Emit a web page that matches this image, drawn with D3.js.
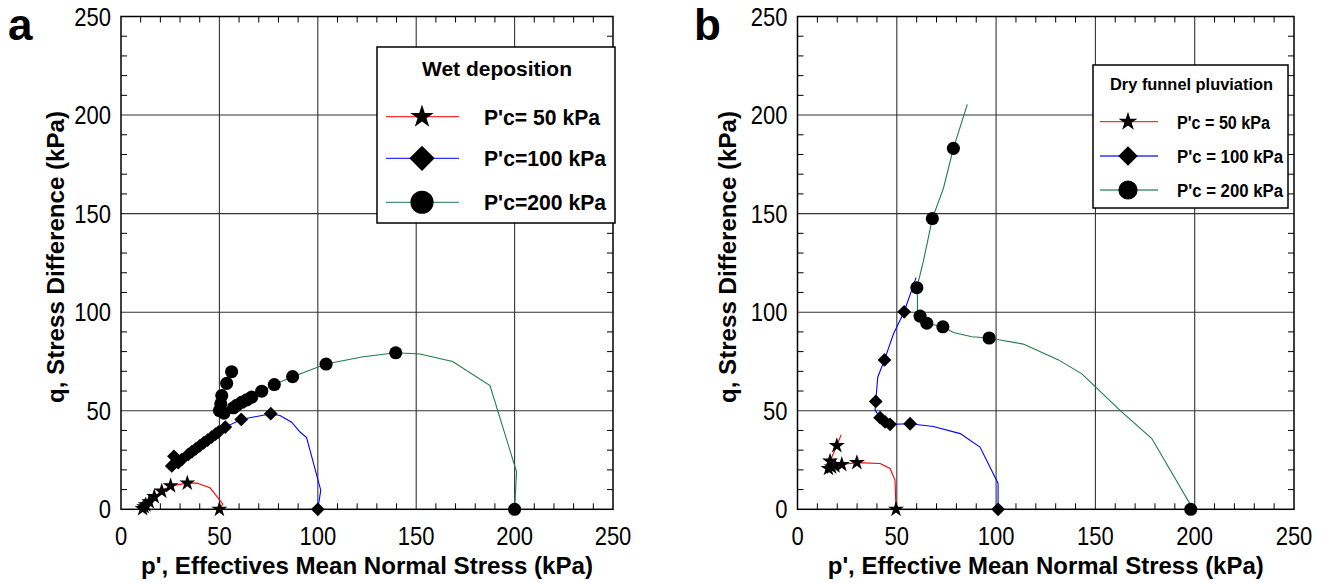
<!DOCTYPE html>
<html><head><meta charset="utf-8">
<script src="https://cdn.jsdelivr.net/npm/d3@7"></script>
<style>
html,body{margin:0;padding:0;background:#fff;}
svg{display:block;font-family:"Liberation Sans",Arial,sans-serif;}
</style></head>
<body>
<svg id="chart" width="1326" height="583"></svg>
<script>
// ---------- data ----------
const axisTicks = [0, 50, 100, 150, 200, 250];
const minorTicks = d3.range(10, 250, 10).filter(v => v % 50 !== 0);

const seriesNames = ["50 kPa", "100 kPa", "200 kPa"];
const seriesColors = ["#ff0000", "#0000ff", "#1e7b4b"];

// Panel a — Wet deposition
const aRedLine = [[50,0],[51.7,2.7],[48.2,7.2],[45.2,10.9],[38.4,13.3],[33.7,13.3],[25.2,11.9],[20.7,9.2],[16.9,6.4],[14.4,3.8],[11.8,1.3],[11,0.3]];
const aRedPts  = [[50,0],[33.7,13.3],[25.2,11.9],[20.7,9.2],[16.9,6.4],[14.4,3.8],[12.6,2.2],[11.8,1.3],[11,0.3]];
const aBlueLine = [[100,0],[101.5,9.7],[94.3,36.4],[91,39.2],[86.7,44.2],[80.8,47.6],[76.1,48.5],[61.1,45.6],[53,41.7],[49.5,39.2],[48,38.1],[46,36.6],[44,35.1],[42,33.7],[40,32.2],[38,30.7],[36,29.2],[34.2,27.9],[30.8,25.2],[29.1,23.7],[25.8,22],[26.9,26.9]];
const aBluePts  = [[100,0],[76.1,48.5],[61.1,45.6],[53,41.7],[49.5,39.2],[48,38.1],[46,36.6],[44,35.1],[42,33.7],[40,32.2],[38,30.7],[36,29.2],[34.2,27.9],[30.8,25.2],[29.1,23.7],[25.8,22],[26.9,26.9]];
const aGreenLine = [[200,0],[201,19],[187.5,62.8],[168.5,75],[151.9,78.8],[139.6,79.4],[123,77.4],[104.2,73.7],[87.2,67.3],[77.9,63.3],[71.5,59.9],[66.4,56.9],[63.9,55.5],[61.3,54.3],[58.8,52.7],[57.1,51.5],[52.3,48.8],[50,50.1],[50.7,53.5],[51.2,57.7],[53.7,63.9],[56.2,69.8]];
const aGreenPts  = [[200,0],[139.6,79.4],[104.2,73.7],[87.2,67.3],[77.9,63.3],[71.5,59.9],[66.4,56.9],[63.9,55.5],[61.3,54.3],[58.8,52.7],[57.1,51.5],[52.3,48.8],[50,50.1],[50.7,53.5],[51.2,57.7],[53.7,63.9],[56.2,69.8]];

// Panel b — Dry funnel pluviation
const bRedLine = [[49.6,0],[49.1,14.8],[46.6,20.7],[41.6,23.2],[29.9,23.7],[22.3,22.7],[18.9,22],[15.6,20.7],[16.4,24.4],[19.8,32.3],[22,37.9]];
const bRedPts  = [[49.6,0],[29.9,23.7],[22.3,22.7],[18.9,22],[17.2,21.4],[15.6,20.7],[16.4,24.4],[19.8,32.3]];
const bBlueLine = [[101,0],[101,13.1],[91.9,31.6],[81.9,38.4],[68.4,42],[56.7,43.4],[46.6,43.1],[44.1,44.3],[41.6,46.5],[39.1,50.2],[39.4,54.7],[40.4,67],[43.8,75.8],[48.3,88.9],[53.7,100.2],[59.7,117.5]];
const bBluePts  = [[101,0],[56.7,43.4],[46.6,43.1],[44.1,44.3],[41.6,46.5],[39.4,54.7],[43.8,75.8],[53.7,100.2]];
const bGreenLine = [[198,0],[197.5,3],[178.4,35.9],[162.4,50.2],[143.2,68.7],[131.4,75.8],[113.7,83.8],[102,85.9],[96.5,86.9],[87.8,87.5],[78.5,89.7],[73.2,92.6],[65.1,94.4],[61.7,98],[60.4,100.7],[60.4,107.4],[60.1,112.4],[63.4,125.9],[67.9,147.5],[73.5,162.9],[78.5,183.1],[85.5,205.4]];
const bGreenPts  = [[198,0],[96.5,86.9],[73.2,92.6],[65.1,94.4],[61.7,98],[60.1,112.4],[67.9,147.5],[78.5,183.1]];

const aLabels = ["P'c= 50 kPa", "P'c=100 kPa", "P'c=200 kPa"];
const bLabels = ["P'c = 50 kPa", "P'c = 100 kPa", "P'c = 200 kPa"];

// ---------- drawing ----------
const svg = d3.select("#chart");
const symbols = [d3.symbolStar, d3.symbolSquare, d3.symbolCircle];
const rot = [0, 45, 0];

function condense(sel, f) {
  sel.each(function () {
    const w = this.getComputedTextLength();
    d3.select(this).attr("textLength", w * f).attr("lengthAdjust", "spacingAndGlyphs");
  });
}

function drawPanel(cfg) {
  const x = d3.scaleLinear().domain([0, 250]).range(cfg.xr);
  const y = d3.scaleLinear().domain([0, 250]).range([509.3, 16.5]);
  const g = svg.append("g");
  const [x0, x1] = cfg.xr, y0 = y(0), y1 = y(250);

  // grid
  g.selectAll(".gx").data(axisTicks.slice(1, -1)).join("line")
    .attr("x1", d => x(d)).attr("x2", d => x(d)).attr("y1", y0).attr("y2", y1)
    .attr("stroke", "#333").attr("stroke-width", 1.1);
  g.selectAll(".gy").data(axisTicks.slice(1, -1)).join("line")
    .attr("y1", d => y(d)).attr("y2", d => y(d)).attr("x1", x0).attr("x2", x1)
    .attr("stroke", "#333").attr("stroke-width", 1.1);

  // minor ticks on all sides
  const tl = 6;
  minorTicks.forEach(v => {
    g.append("line").attr("x1", x(v)).attr("x2", x(v)).attr("y1", y0).attr("y2", y0 - tl).attr("stroke", "#000");
    g.append("line").attr("x1", x(v)).attr("x2", x(v)).attr("y1", y1).attr("y2", y1 + tl).attr("stroke", "#000");
    g.append("line").attr("y1", y(v)).attr("y2", y(v)).attr("x1", x0).attr("x2", x0 + tl).attr("stroke", "#000");
    g.append("line").attr("y1", y(v)).attr("y2", y(v)).attr("x1", x1).attr("x2", x1 - tl).attr("stroke", "#000");
  });

  // frame
  g.append("rect").attr("x", x0).attr("y", y1).attr("width", x1 - x0).attr("height", y0 - y1)
    .attr("fill", "none").attr("stroke", "#000").attr("stroke-width", 1.5);

  // tick labels
  const xl = g.selectAll(".xl").data(axisTicks).join("text")
    .attr("x", d => x(d)).attr("y", 545).attr("text-anchor", "middle")
    .attr("font-size", 25).text(d => d);
  condense(xl, 0.88);
  const yl = g.selectAll(".yl").data(axisTicks).join("text")
    .attr("x", x0 - 10).attr("y", d => y(d) + 9).attr("text-anchor", "end")
    .attr("font-size", 25).text(d => d);
  condense(yl, 0.88);

  // axis titles
  g.append("text").attr("x", (x0 + x1) / 2).attr("y", 574).attr("text-anchor", "middle")
    .attr("font-size", 24).attr("font-weight", "bold")
    .attr("textLength", cfg.xTitleLen).attr("lengthAdjust", "spacingAndGlyphs").text(cfg.xTitle);
  g.append("text").attr("transform", `translate(${cfg.yTitleX},257) rotate(-90)`)
    .attr("text-anchor", "middle").attr("font-size", 24).attr("font-weight", "bold")
    .attr("textLength", 292).attr("lengthAdjust", "spacingAndGlyphs").text("q, Stress Difference (kPa)");

  // panel letter
  g.append("text").attr("x", cfg.letterX).attr("y", 40).attr("font-size", 44)
    .attr("font-weight", "bold").text(cfg.letter);

  // series
  const line = d3.line().x(d => x(d[0])).y(d => y(d[1]));
  cfg.lines.forEach((ln, i) => {
    g.append("path").attr("d", line(ln)).attr("fill", "none")
      .attr("stroke", seriesColors[i]).attr("stroke-width", 1.1);
  });
  cfg.pts.forEach((pts, i) => {
    const sym = d3.symbol().type(symbols[i]).size(cfg.msize[i]);
    g.selectAll(null).data(pts).join("path")
      .attr("d", sym)
      .attr("transform", d => `translate(${x(d[0])},${y(d[1])}) rotate(${rot[i]})`)
      .attr("fill", "#000");
  });

  // legend
  const L = cfg.legend;
  g.append("rect").attr("x", L.x).attr("y", L.y).attr("width", L.w).attr("height", L.h)
    .attr("fill", "#fff").attr("stroke", "#000").attr("stroke-width", 1.5);
  g.append("text").attr("x", L.titleX).attr("y", L.titleY).attr("text-anchor", "middle")
    .attr("font-size", L.titleSize).attr("font-weight", "bold")
    .attr("textLength", L.titleLen).attr("lengthAdjust", "spacingAndGlyphs").text(L.title);
  L.rows.forEach((ry, i) => {
    g.append("line").attr("x1", L.lx1).attr("x2", L.lx2).attr("y1", ry).attr("y2", ry)
      .attr("stroke", seriesColors[i]).attr("stroke-width", 1.3).attr("opacity", 0.8);
    const sym = d3.symbol().type(symbols[i]).size(L.msize[i]);
    g.append("path").attr("d", sym).attr("transform", `translate(${L.mx},${ry}) rotate(${rot[i]})`).attr("fill", "#000");
    g.append("text").attr("x", L.tx).attr("y", ry + L.baseOff).attr("font-size", L.labelSize)
      .attr("font-weight", "bold").attr("textLength", L.labelLens[i])
      .attr("lengthAdjust", "spacingAndGlyphs").text(L.labels[i]);
  });
}

drawPanel({
  xr: [121, 613], letter: "a", letterX: 8, yTitleX: 64,
  xTitle: "p', Effectives Mean Normal Stress (kPa)", xTitleLen: 452,
  lines: [aRedLine, aBlueLine, aGreenLine], pts: [aRedPts, aBluePts, aGreenPts],
  msize: [80, 95, 135],
  legend: { x: 377, y: 47, w: 238, h: 176, title: "Wet deposition", titleX: 497, titleY: 76,
    titleSize: 20, titleLen: 150, rows: [116.7, 158.3, 202.3], lx1: 386, lx2: 459, mx: 422,
    tx: 484, baseOff: 8, labelSize: 22, labelLens: [116, 122, 122], labels: aLabels,
    msize: [170, 320, 420] }
});

drawPanel({
  xr: [797.5, 1294], letter: "b", letterX: 694, yTitleX: 736,
  xTitle: "p', Effective Mean Normal Stress (kPa)", xTitleLen: 436,
  lines: [bRedLine, bBlueLine, bGreenLine], pts: [bRedPts, bBluePts, bGreenPts],
  msize: [80, 95, 135],
  legend: { x: 1093, y: 65, w: 195, h: 143, title: "Dry funnel pluviation", titleX: 1191.5, titleY: 90,
    titleSize: 17, titleLen: 163, rows: [121.7, 156, 190], lx1: 1100, lx2: 1158, mx: 1128,
    tx: 1177, baseOff: 7, labelSize: 18, labelLens: [93, 106, 106], labels: bLabels,
    msize: [110, 190, 290] }
});
</script>
</body></html>
